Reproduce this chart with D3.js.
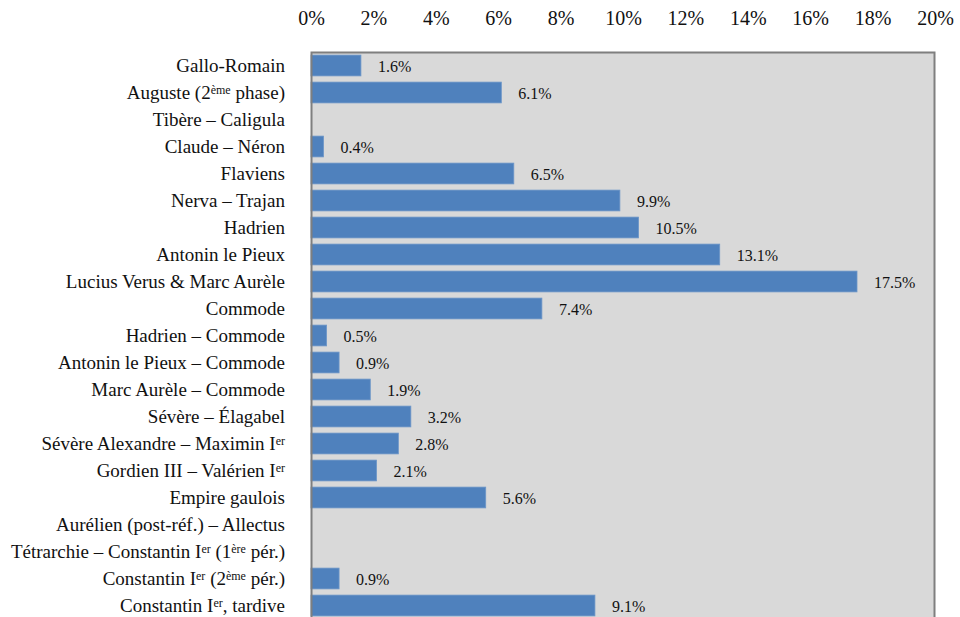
<!DOCTYPE html>
<html>
<head>
<meta charset="utf-8">
<script src="https://cdn.jsdelivr.net/npm/d3@7"></script>
<style>
  body { margin: 0; background: #fff; }
</style>
</head>
<body>
<div id="chart"></div>
<script>
// periods (text in {} is superscript)
var categories = [
    "Gallo-Romain",
    "Auguste (2{ème} phase)",
    "Tibère – Caligula",
    "Claude – Néron",
    "Flaviens",
    "Nerva – Trajan",
    "Hadrien",
    "Antonin le Pieux",
    "Lucius Verus & Marc Aurèle",
    "Commode",
    "Hadrien – Commode",
    "Antonin le Pieux – Commode",
    "Marc Aurèle – Commode",
    "Sévère – Élagabel",
    "Sévère Alexandre – Maximin I{er}",
    "Gordien III – Valérien I{er}",
    "Empire gaulois",
    "Aurélien (post-réf.) – Allectus",
    "Tétrarchie – Constantin I{er} (1{ère} pér.)",
    "Constantin I{er} (2{ème} pér.)",
    "Constantin I{er}, tardive"
];
// percentages, null = no bar
var values = [1.6, 6.1, null, 0.4, 6.5, 9.9, 10.5, 13.1, 17.5, 7.4, 0.5, 0.9, 1.9, 3.2, 2.8, 2.1, 5.6, null, null, 0.9, 9.1];
var ticks = [0, 2, 4, 6, 8, 10, 12, 14, 16, 18, 20];

var serif = "'Liberation Serif', 'DejaVu Serif', serif";
var width = 960, height = 617;
var svg = d3.select("#chart").append("svg")
    .attr("width", width)
    .attr("height", height)
    .attr("font-family", serif);

var x = d3.scaleLinear().domain([0, 20]).range([311, 935]);
var y = d3.scaleBand()
    .domain(d3.range(categories.length))
    .range([52, 619])
    .paddingInner(0.23)
    .paddingOuter(0.115);

// plot background
svg.append("rect")
    .attr("x", x(0)).attr("y", 52)
    .attr("width", x(20) - x(0)).attr("height", 600)
    .style("fill", "#d9d9d9");

// top axis labels
svg.append("g")
    .attr("transform", "translate(0,25)")
    .call(d3.axisTop(x).tickValues(ticks).tickSize(0).tickFormat(function(d) { return d + "%"; }))
    .call(function(g) {
        g.attr("font-family", serif).attr("font-size", 20);
        g.select(".domain").remove();
        g.selectAll("text")
            .attr("y", 0).attr("dy", 0)
            .attr("fill", "#111");
    });

var bars = values.map(function(v, i) { return {v: v, i: i}; })
    .filter(function(d) { return d.v != null; });

svg.append("g")
    .selectAll("rect")
    .data(bars)
    .enter().append("rect")
    .attr("x", x(0))
    .attr("y", function(d) { return y(d.i); })
    .attr("width", function(d) { return x(d.v) - x(0); })
    .attr("height", y.bandwidth())
    .style("fill", "#4f81bd")
    .style("stroke", "#6d96c8")
    .style("stroke-width", "0.8px");

// value labels
svg.append("g")
    .selectAll("text")
    .data(bars)
    .enter().append("text")
    .attr("x", function(d) { return x(d.v) + 17; })
    .attr("y", function(d) { return y(d.i) + y.bandwidth() / 2 + 6; })
    .attr("font-family", serif)
    .attr("font-size", 16)
    .attr("fill", "#111")
    .text(function(d) { return d.v.toFixed(1) + "%"; });

// frame
svg.append("rect")
    .attr("x", x(0) + 0.5).attr("y", 52.5)
    .attr("width", x(20) - x(0) - 1).attr("height", 600)
    .style("fill", "none")
    .style("stroke", "#7f7f7f")
    .style("stroke-width", "2px");

// category labels with superscripts
var labels = svg.append("g")
    .selectAll("text")
    .data(categories)
    .enter().append("text")
    .attr("x", 285)
    .attr("y", function(d, i) { return y(i) + y.bandwidth() / 2 + 6; })
    .attr("font-family", serif)
    .attr("font-size", 19)
    .attr("fill", "#111")
    .attr("text-anchor", "end");

labels.each(function(d) {
    var t = d3.select(this);
    var parts = d.split(/\{([^}]*)\}/);
    var raised = false;
    parts.forEach(function(p, k) {
        if (k % 2 === 1) {
            t.append("tspan").attr("dy", -5).attr("font-size", 12).text(p);
            raised = true;
        } else if (p !== "") {
            var s = t.append("tspan").text(p);
            if (raised) { s.attr("dy", 5); raised = false; }
        }
    });
});
</script>
</body>
</html>
